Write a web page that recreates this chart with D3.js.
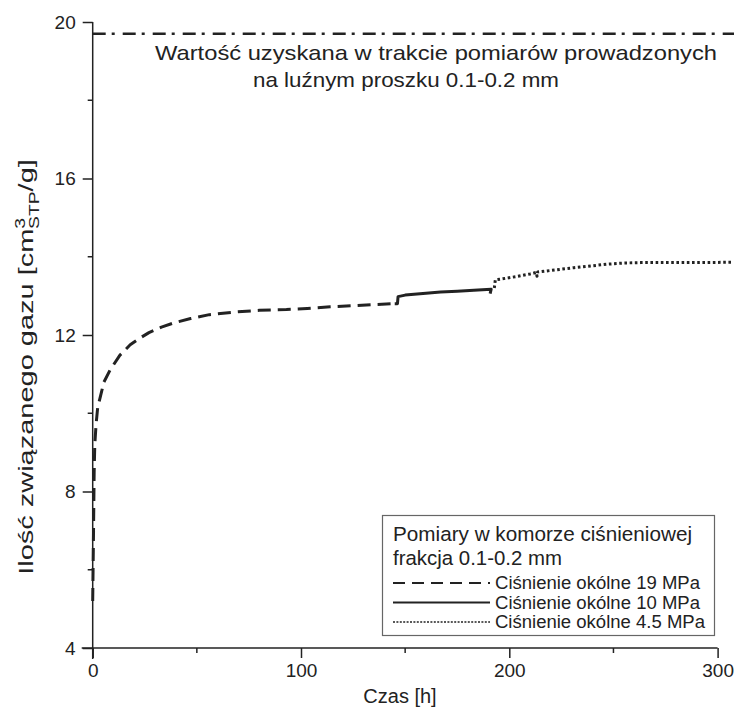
<!DOCTYPE html>
<html>
<head>
<meta charset="utf-8">
<script src="https://cdn.jsdelivr.net/npm/d3@7"></script>
<style>
  body { margin: 0; background: #fff; }
  svg { display: block; font-family: "Liberation Sans", Arial, sans-serif; }
</style>
</head>
<body>
<svg id="chart" width="734" height="708"></svg>
<script>
// Dashed: confining pressure 19 MPa  [t (h), cm3/g]
const series19 = [
  [0, 5.2], [0.4, 7.0], [0.7, 8.5], [1.0, 9.2], [1.6, 9.7], [2.4, 10.15],
  [3.8, 10.45], [5.4, 10.8], [8.3, 11.1], [13, 11.48], [18, 11.75], [22, 11.9],
  [27, 12.06], [33, 12.2], [39, 12.31], [47, 12.42], [56, 12.52], [69, 12.59],
  [80, 12.63], [93, 12.65], [103, 12.68], [114, 12.72], [125, 12.75],
  [136, 12.78], [145, 12.8]
];
// Solid: 10 MPa
const series10 = [
  [145, 12.8], [146.3, 12.8], [146.6, 12.98], [150, 13.02], [160, 13.07],
  [167, 13.1], [175, 13.12], [185, 13.15], [191.3, 13.17], [190.8, 13.06]
];
// Dotted: 4.5 MPa
const series45 = [
  [192.8, 13.2], [193.3, 13.41], [196, 13.43], [203, 13.49], [210, 13.56],
  [213, 13.6], [213.3, 13.5], [213.6, 13.61], [220, 13.65], [231, 13.72],
  [240, 13.77], [247, 13.81], [255, 13.84], [263, 13.85], [275, 13.85],
  [290, 13.85], [307, 13.86]
];
const refValue = 19.7;

const xTicks = [0, 100, 200, 300];
const xMinor = [50, 150, 250];
const yTicks = [4, 8, 12, 16, 20];
const yMinor = [6, 10, 14, 18];

const annotLines = ["Wartość uzyskana w trakcie pomiarów prowadzonych", "na luźnym proszku 0.1-0.2 mm"];
const legendTitle = ["Pomiary w komorze ciśnieniowej", "frakcja 0.1-0.2 mm"];
const legendItems = [
  { label: "Ciśnienie okólne 19 MPa", dash: "12,7", w: 2.2, len: 205 },
  { label: "Ciśnienie okólne 10 MPa", dash: null, w: 2.2, len: 205 },
  { label: "Ciśnienie okólne 4.5 MPa", dash: "2,1.4", w: 1.6, len: 210 }
];

const ink = "#222";
const svg = d3.select("#chart");

const x = d3.scaleLinear().domain([0, 300]).range([92.7, 717.6]);
const y = d3.scaleLinear().domain([4, 20]).range([648, 22]);

// axes
const xAxis = svg.append("g").attr("transform", `translate(0,${y(4)})`)
  .call(d3.axisBottom(x).tickValues(xTicks).tickSize(10).tickPadding(6).tickSizeOuter(0));
xAxis.append("g").selectAll("line").data(xMinor).join("line")
  .attr("x1", d => x(d)).attr("x2", d => x(d)).attr("y1", 0).attr("y2", 5);
xAxis.select(".domain").attr("d", `M${x(0) - 11},0H${x(300)}`);

const yAxis = svg.append("g").attr("transform", `translate(${x(0)},0)`)
  .call(d3.axisLeft(y).tickValues(yTicks).tickSize(10).tickPadding(7).tickSizeOuter(0));
yAxis.append("g").selectAll("line").data(yMinor).join("line")
  .attr("x1", 0).attr("x2", -5).attr("y1", d => y(d)).attr("y2", d => y(d));
yAxis.select(".domain").attr("d", `M0,${y(20)}V${y(4) + 11}`);

svg.selectAll(".domain, .tick line, g > g > line")
  .attr("stroke", ink).attr("stroke-width", 1.5);
svg.selectAll(".tick text").attr("font-size", 19).attr("fill", ink)
  .attr("font-family", "Liberation Sans, Arial, sans-serif");

// axis titles
svg.append("text").attr("x", 400).attr("y", 703)
  .attr("text-anchor", "middle").attr("font-size", 20).attr("fill", ink).text("Czas [h]");

const yt = svg.append("text")
  .attr("transform", "translate(33,367) rotate(-90) scale(1.38,1)")
  .attr("text-anchor", "middle").attr("font-size", 21).attr("fill", ink);
yt.append("tspan").text("Ilość związanego gazu [cm");
yt.append("tspan").attr("font-size", 14).attr("dy", -8).text("3");
yt.append("tspan").attr("font-size", 14).attr("dx", -8).attr("dy", 14).text("STP");
yt.append("tspan").attr("dy", -6).text("/g]");

// reference dash-dot line
svg.append("line")
  .attr("x1", x(0)).attr("x2", x(310)).attr("y1", y(refValue)).attr("y2", y(refValue))
  .attr("stroke", ink).attr("stroke-width", 2.4).attr("stroke-dasharray", "13,6,3,8");

const annotPos = [{ x: 155, y: 60, len: 562 }, { x: 253, y: 87, len: 306 }];
svg.append("g").selectAll("text").data(annotLines).join("text")
  .attr("x", (d, i) => annotPos[i].x).attr("y", (d, i) => annotPos[i].y)
  .attr("textLength", (d, i) => annotPos[i].len).attr("lengthAdjust", "spacingAndGlyphs")
  .attr("font-size", 21).attr("fill", ink)
  .text(d => d);

// curves
const line = d3.line().x(d => x(d[0])).y(d => y(d[1])).curve(d3.curveLinear);
const curves = [
  { data: series19, dash: "13,7", w: 3 },
  { data: series10, dash: null, w: 3 },
  { data: series45, dash: "2.6,2.6", w: 3 }
];
svg.append("g").selectAll("path").data(curves).join("path")
  .attr("d", d => line(d.data)).attr("fill", "none")
  .attr("stroke", ink).attr("stroke-width", d => d.w)
  .attr("stroke-dasharray", d => d.dash)
  .attr("stroke-linejoin", "round");

// legend
const titleLen = [299, 169];
const lg = svg.append("g");
lg.append("rect").attr("x", 382.5).attr("y", 515.5).attr("width", 332).attr("height", 120)
  .attr("fill", "#fff").attr("stroke", "#666").attr("stroke-width", 1.2);
lg.selectAll("text.t").data(legendTitle).join("text").attr("class", "t")
  .attr("x", 393).attr("y", (d, i) => 541 + i * 24)
  .attr("textLength", (d, i) => titleLen[i]).attr("lengthAdjust", "spacingAndGlyphs")
  .attr("font-size", 20.5).attr("fill", ink).text(d => d);
const li = lg.selectAll("g.it").data(legendItems).join("g").attr("class", "it")
  .attr("transform", (d, i) => `translate(0,${583 + i * 19.5})`);
li.append("line").attr("x1", 393).attr("x2", 490).attr("y1", 0).attr("y2", 0)
  .attr("stroke", ink).attr("stroke-width", d => d.w).attr("stroke-dasharray", d => d.dash);
li.append("text").attr("x", 495).attr("y", 6).attr("font-size", 17.5).attr("fill", ink)
  .attr("textLength", d => d.len).attr("lengthAdjust", "spacingAndGlyphs")
  .text(d => d.label);
</script>
</body>
</html>
